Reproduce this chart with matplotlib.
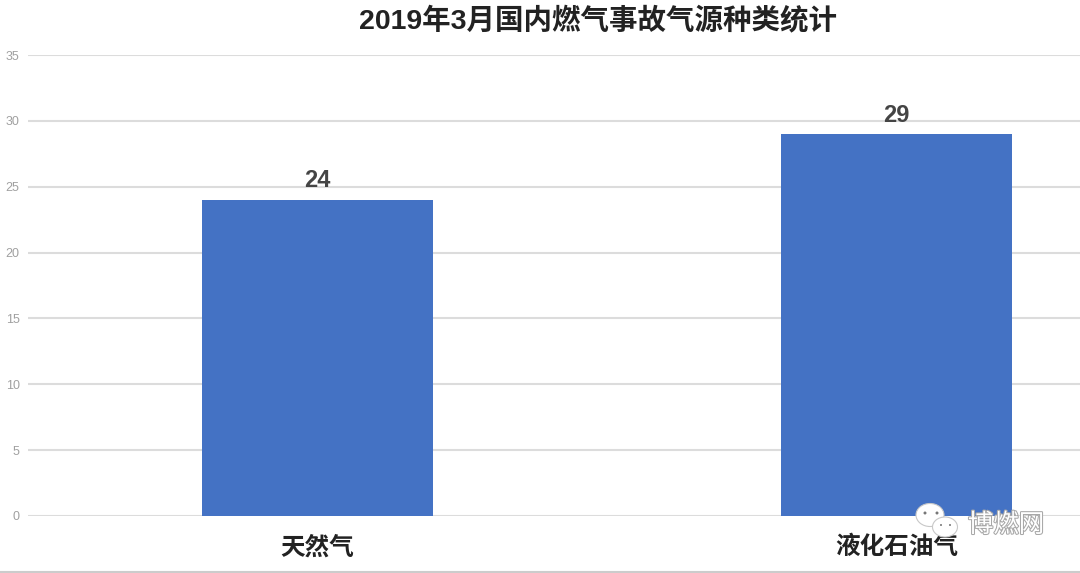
import matplotlib
matplotlib.use('Agg')
import matplotlib.pyplot as plt
import matplotlib.patheffects as pe
from matplotlib.patches import Ellipse

plt.rcParams['font.family'] = ['Liberation Sans', 'Noto Sans CJK SC', 'DejaVu Sans']

title = '2019年3月国内燃气事故气源种类统计'
categories = ['天然气', '液化石油气']
values = [24, 29]
yticks = [0, 5, 10, 15, 20, 25, 30, 35]

W, H = 1080, 573
fig = plt.figure(figsize=(W / 100, H / 100), dpi=100)

# axes box in pixels: y=0 at 516, y=35 at 55
ax = fig.add_axes([28 / W, 1 - 516 / H, (W - 28) / W, (516 - 55) / H])
x = [0, 1]
ax.bar(x, values, width=0.4, color='#4472c4', zorder=3)
ax.set_xlim(-0.5, 1.317)
ax.set_ylim(0, 35)

ax.set_yticks(yticks)
ax.set_xticks(x)
ax.set_xticklabels(categories, fontsize=17.7, fontweight='bold', color='#222222')
ax.tick_params(axis='x', length=0, pad=14)
ax.tick_params(axis='y', length=0, pad=6, labelsize=9, labelcolor='#a0a0a0')
ax.grid(axis='y', color='#dcdcdc', lw=1.5, zorder=0)
for s in ax.spines.values():
    s.set_visible(False)

for xi, v in zip(x, values):
    ax.annotate(str(v), (xi, v), xytext=(0, 9), textcoords='offset points',
                ha='center', va='baseline', fontsize=17, fontweight='bold', color='#444444')

fig.text(598 / W, 1 - 20 / H, title, ha='center', va='center',
         fontsize=20.5, fontweight='bold', color='#222222')

# watermark
big = Ellipse((930 / W, 1 - 515 / H), 28 / W, 23 / H, transform=fig.transFigure,
              fc='white', ec='#c8c8c8', lw=0.8, zorder=5)
small = Ellipse((945 / W, 1 - 527 / H), 25 / W, 20 / H, transform=fig.transFigure,
                fc='white', ec='#c8c8c8', lw=0.8, zorder=6)
fig.add_artist(big)
fig.add_artist(small)
for ex, ey, r in [(925, 513, 3), (937, 513, 3), (941, 525, 2), (950, 525, 2)]:
    fig.add_artist(Ellipse((ex / W, 1 - ey / H), r / W, r / H, transform=fig.transFigure,
                           fc='#777777', ec='none', zorder=7))
mark = fig.text(1006 / W, 1 - 525 / H, '博燃网', ha='center', va='center', fontsize=18.3,
                color='white', zorder=8)
mark.set_path_effects([pe.withStroke(linewidth=1.5, foreground='#a8a8a8')])

# bottom border
fig.add_artist(plt.Line2D([0, 1], [1 - 571.5 / H] * 2, color='#cccccc', lw=1.5))

fig.savefig('out.png', dpi=100)
